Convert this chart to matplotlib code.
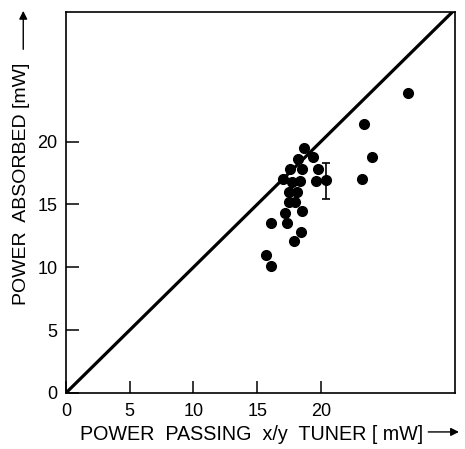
import matplotlib
matplotlib.use("Agg")
import matplotlib.pyplot as plt

plt.rcParams['font.family'] = ['Liberation Sans', 'DejaVu Sans']

# measured points (power passing, power absorbed) in mW
passing = [26.85, 23.4, 24.0, 23.2, 19.6, 19.8, 19.4, 18.7, 18.2, 18.5,
           17.6, 17.0, 17.7, 18.35, 17.5, 18.1, 17.5, 18.0, 17.2, 18.55,
           16.1, 17.3, 18.4, 17.9, 15.7, 16.1]
absorbed = [23.9, 21.4, 18.8, 17.05, 16.9, 17.8, 18.8, 19.5, 18.6, 17.8,
            17.8, 17.0, 16.8, 16.9, 16.0, 16.0, 15.2, 15.2, 14.3, 14.5,
            13.5, 13.5, 12.8, 12.1, 11.0, 10.1]

# point with error bar
err_x = [20.4]
err_y = [16.97]
err_lo = [1.55]
err_hi = [1.35]

x_ticks = [0, 5, 10, 15, 20]
y_ticks = [0, 5, 10, 15, 20]

fig = plt.figure(figsize=(4.65, 4.49), dpi=100)
ax = fig.add_axes([0.142, 0.125, 0.836, 0.848])

ax.plot([0, 31], [0, 31], color='black', lw=2.3, solid_capstyle='butt')
ax.plot(passing, absorbed, 'o', color='black', markersize=7)
ax.errorbar(err_x, err_y, yerr=[err_lo, err_hi], fmt='o', color='black',
            markersize=7, elinewidth=1.2, capsize=3, capthick=1.2)

ax.set_xlim(0, 30.5)
ax.set_ylim(0, 30.3)
ax.set_xticks(x_ticks)
ax.set_yticks(y_ticks)
ax.tick_params(direction='in', length=9, width=1.1, labelsize=13,
               top=False, right=False)
ax.tick_params(axis='x', pad=7)
ax.tick_params(axis='y', pad=6)
for s in ax.spines.values():
    s.set_linewidth(1.2)

fig.text(0.172, 0.02, 'POWER  PASSING  x/y  TUNER [ mW]', fontsize=14.2,
         ha='left', va='baseline')
fig.text(0.027, 0.321, 'POWER  ABSORBED [mW]', fontsize=14, rotation=90,
         ha='left', va='bottom')

ax.annotate('', xy=(0.993, 0.038), xytext=(0.915, 0.038),
            xycoords='figure fraction',
            arrowprops=dict(arrowstyle='-|>', color='black', lw=1.0,
                            mutation_scale=12))
ax.annotate('', xy=(0.05, 0.982), xytext=(0.05, 0.884),
            xycoords='figure fraction',
            arrowprops=dict(arrowstyle='-|>', color='black', lw=1.0,
                            mutation_scale=12))

fig.savefig('out.png', dpi=100)
